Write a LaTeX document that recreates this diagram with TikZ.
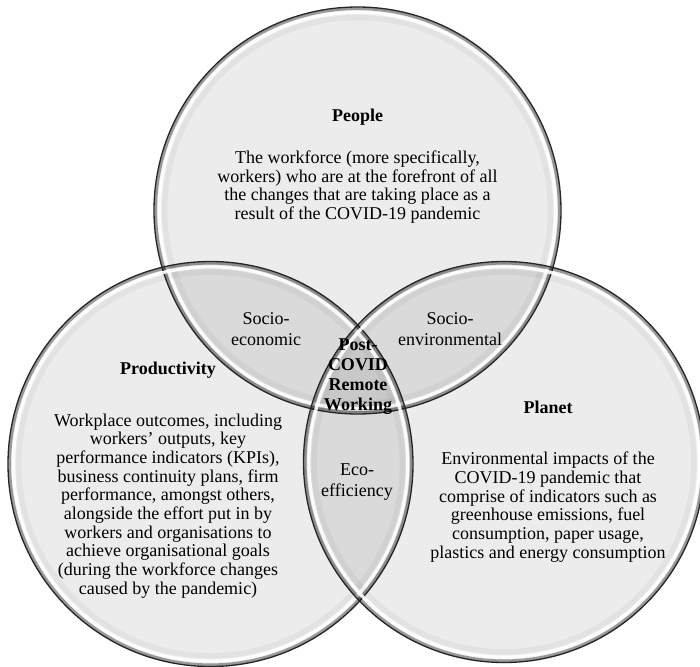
\documentclass[tikz,border=0pt]{standalone}
\usepackage{fontspec}
\setmainfont{Liberation Serif}
\begin{document}
\begin{tikzpicture}[x=0.75pt,y=-0.75pt,
  venn/.style={circle, inner sep=0pt, fill=black, fill opacity=0.075, minimum size=#1},
  desc/.style={align=center, inner sep=0pt, text=black, font=\fontsize{13.5pt}{14pt}\selectfont},
  lab/.style={align=center, inner sep=0pt, text=black, font=\fontsize{13.5pt}{16pt}\selectfont},
  ttl/.style={align=center, inner sep=0pt, text=black, font=\fontsize{13.5pt}{15pt}\selectfont\bfseries}]
\useasboundingbox (0,0) rectangle (700,667);
\fill[white] (0,0) rectangle (700,667);
% circles
\node[venn=305.25pt] (people) at (357.5,210.5) {};
\node[venn=303.75pt] (prod) at (210.5,464) {};
\node[venn=300.75pt] (planet) at (504,462) {};
% bevel edges
\foreach \n/\r in {people/152.625, prod/151.875, planet/150.375}{
  \draw[black, line width=4pt, opacity=0.04] (\n.center) circle[radius=\r pt-8pt];
  \draw[black, line width=2pt, opacity=0.35] (\n.center) circle[radius=\r pt-1.3pt];
  \draw[white, line width=2.4pt, opacity=0.9] (\n.center) circle[radius=\r pt-4pt];
  \draw[black!85, line width=1pt] (\n.center) circle[radius=\r pt];
}
% texts
\node[ttl] (peopleT) at (357.5,117) {People};
\node[desc] (peopleD) at (357.5,187) {The workforce (more specifically,\\workers) who are at the forefront of all\\the changes that are taking place as a\\result of the COVID-19 pandemic};
\node[lab] (soceco) at (266,329) {Socio-\\economic};
\node[lab] (socenv) at (450,329) {Socio-\\environmental};
\node[ttl] (center) at (358,377) {Post-\\COVID\\Remote\\Working};
\node[ttl] (prodT) at (168,370) {Productivity};
\node[desc] (prodD) at (168,506) {Workplace outcomes, including\\workers’ outputs, key\\performance indicators (KPIs),\\business continuity plans, firm\\performance, amongst others,\\alongside the effort put in by\\workers and organisations to\\achieve organisational goals\\(during the workforce changes\\caused by the pandemic)};
\node[ttl] (planetT) at (548,407) {Planet};
\node[desc] (planetD) at (548,507) {Environmental impacts of the\\COVID-19 pandemic that\\comprise of indicators such as\\greenhouse emissions, fuel\\consumption, paper usage,\\plastics and energy consumption};
\node[lab] (eco) at (357,482) {Eco-\\efficiency};
\end{tikzpicture}
\end{document}
